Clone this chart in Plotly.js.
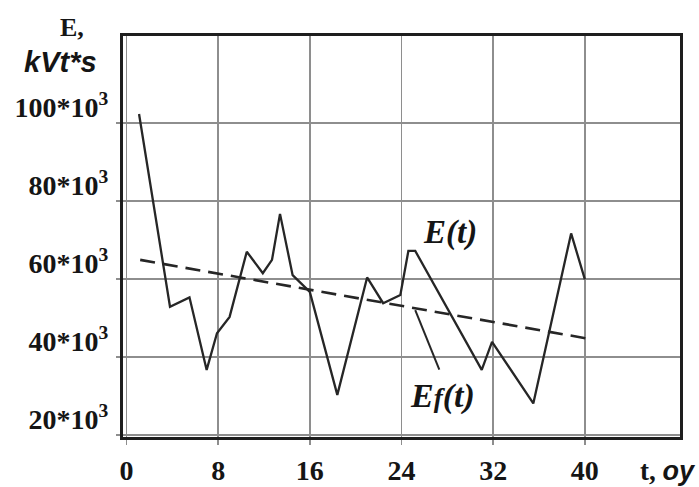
<!DOCTYPE html>
<html>
<head>
<meta charset="utf-8">
<script src="https://cdn.plot.ly/plotly-3.0.1.min.js"></script>
<style>html,body{margin:0;padding:0;background:#fff;}#chart{width:699px;height:487px;}</style>
</head>
<body>
<div id="chart"></div>
<script>
// E(t) measured series (t in days "oy", E in kVt*s)
var tValues = [1.1, 3.8, 5.5, 7.0, 7.9, 9.0, 10.5, 11.9, 12.7, 13.4, 14.5, 16.0, 18.4, 21.0, 22.4, 23.9, 24.6, 25.2, 31.0, 31.9, 35.5, 38.8, 40.0];
var eValues = [102300, 52900, 55300, 36700, 46100, 50300, 67000, 61500, 64900, 76700, 61000, 56700, 30300, 60400, 53800, 55900, 67200, 67200, 36700, 43900, 28100, 71700, 59900];
// Ef(t) trend line end points
var trendT = [1.2, 40.3];
var trendE = [64900, 44700];
// leader line from Ef(t) label to trend line
var leaderT = [25.2, 27.3];
var leaderE = [52000, 36800];
// axis ticks
var xTickVals = [0, 8, 16, 24, 32, 40];
var xTickText = ['0', '8', '16', '24', '32', '40'];
var yTickVals = [20000, 40000, 60000, 80000, 100000];
var yTickText = ['20*10<sup>3</sup>', '40*10<sup>3</sup>', '60*10<sup>3</sup>', '80*10<sup>3</sup>', '100*10<sup>3</sup>'];

var serif = 'Liberation Serif, Times New Roman, serif';
var sans = 'Liberation Sans, Arial, sans-serif';
var ink = '#151515';

var traces = [
  {x: tValues, y: eValues, mode: 'lines', line: {color: '#262626', width: 2.3}, hoverinfo: 'skip', showlegend: false},
  {x: trendT, y: trendE, mode: 'lines', line: {color: '#262626', width: 2.6, dash: '15px,8px'}, hoverinfo: 'skip', showlegend: false},
  {x: leaderT, y: leaderE, mode: 'lines', line: {color: '#262626', width: 2}, hoverinfo: 'skip', showlegend: false}
];

var layout = {
  width: 699, height: 487,
  margin: {l: 123, r: 19, t: 36, b: 50, pad: 0},
  paper_bgcolor: '#ffffff', plot_bgcolor: '#ffffff',
  showlegend: false,
  xaxis: {
    range: [-0.3, 48.3], tickmode: 'array', tickvals: xTickVals, ticktext: xTickText,
    showgrid: true, gridcolor: '#8e8e8e', gridwidth: 1.8, zeroline: false,
    showline: true, mirror: true, linecolor: '#1e1e1e', linewidth: 3.2,
    ticks: 'outside', ticklen: 5, tickcolor: '#8e8e8e', tickwidth: 1.8,
    ticklabelstandoff: 1,
    tickfont: {family: serif, size: 28, color: ink, weight: 'bold'}
  },
  yaxis: {
    range: [19500, 122300], tickmode: 'array', tickvals: yTickVals, ticktext: yTickText,
    showgrid: true, gridcolor: '#8e8e8e', gridwidth: 1.8, zeroline: false,
    showline: true, mirror: true, linecolor: '#1e1e1e', linewidth: 3.2,
    ticks: 'outside', ticklen: 4, tickcolor: '#8e8e8e', tickwidth: 1.8,
    ticklabelstandoff: 2, ticklabelshift: -16,
    tickfont: {family: serif, size: 28, color: ink, weight: 'bold'}
  },
  annotations: [
    {xref: 'paper', yref: 'paper', x: -0.092, y: 1.022, xanchor: 'center', yanchor: 'middle', showarrow: false,
     text: 'E,', font: {family: serif, size: 26, color: ink, weight: 'bold'}},
    {xref: 'paper', yref: 'paper', x: -0.112, y: 0.935, xanchor: 'center', yanchor: 'middle', showarrow: false,
     text: '<b><i>kVt*s</i></b>', font: {family: sans, size: 29, color: ink}},
    {xref: 'paper', yref: 'paper', x: 1.033, y: -0.085, xanchor: 'right', yanchor: 'middle', showarrow: false,
     text: '<b>t, </b><span style="font-family:Liberation Sans"><b><i>oy</i></b></span>', font: {family: serif, size: 27, color: ink}},
    {xref: 'x', yref: 'y', x: 28.2, y: 72000, xanchor: 'center', yanchor: 'middle', showarrow: false,
     text: '<b><i>E(t)</i></b>', font: {family: serif, size: 33, color: ink}},
    {xref: 'x', yref: 'y', x: 27.6, y: 30000, xanchor: 'center', yanchor: 'middle', showarrow: false,
     text: '<b><i>E<span style="font-size:27px">f</span>(t)</i></b>', font: {family: serif, size: 34, color: ink}}
  ]
};

Plotly.newPlot('chart', traces, layout, {staticPlot: true, displayModeBar: false});
</script>
</body>
</html>
